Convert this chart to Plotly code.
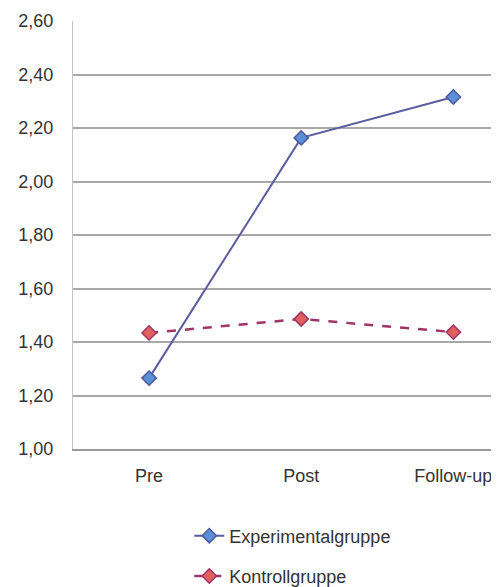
import plotly.graph_objects as go

categories = ["Pre", "Post", "Follow-up"]
experimental = [1.265, 2.163, 2.316]
kontroll = [1.434, 1.486, 1.437]
y_ticks = [1.0, 1.2, 1.4, 1.6, 1.8, 2.0, 2.2, 2.4, 2.6]
y_labels = ["1,00", "1,20", "1,40", "1,60", "1,80", "2,00", "2,20", "2,40", "2,60"]

fig = go.Figure()
fig.add_trace(go.Scatter(
    x=categories, y=experimental, name="Experimentalgruppe",
    mode="lines+markers", legendgroup="a",
    line=dict(color="#5a5e9e", width=2),
    marker=dict(symbol="diamond", size=11, color="#5b8fd6",
                line=dict(color="#4d5a9c", width=1.5)),
))
fig.add_trace(go.Scatter(
    x=categories, y=kontroll, name="Kontrollgruppe",
    mode="lines+markers", legendgroup="b",
    line=dict(color="#a03468", width=2.5, dash="dash"),
    marker=dict(symbol="diamond", size=11, color="#e0605c",
                line=dict(color="#a03468", width=1.5)),
))

fig.update_layout(
    width=491, height=579,
    margin=dict(l=65, r=0, t=13, b=138, autoexpand=False),
    paper_bgcolor="white", plot_bgcolor="white",
    font=dict(family="Liberation Sans, Arial, sans-serif", size=18, color="#333333"),
    legend=dict(x=0.273, y=-0.16, xanchor="left", yanchor="top",
                traceorder="grouped", tracegroupgap=14,
                font=dict(size=18, color="#333333")),
    xaxis=dict(type="category", range=[-0.5, 2.3], showgrid=False,
               showline=True, linecolor="#999999", linewidth=2,
               ticks="", ticklabelstandoff=9, automargin=False),
    yaxis=dict(range=[1.0, 2.6], tickvals=y_ticks, ticktext=y_labels,
               showgrid=True, gridcolor="#a8a8a8", gridwidth=1.5,
               showline=True, linecolor="#c4c4c4", linewidth=1,
               zeroline=False, ticks="", ticklabelstandoff=15, automargin=False),
)

fig.write_html("out.html")
